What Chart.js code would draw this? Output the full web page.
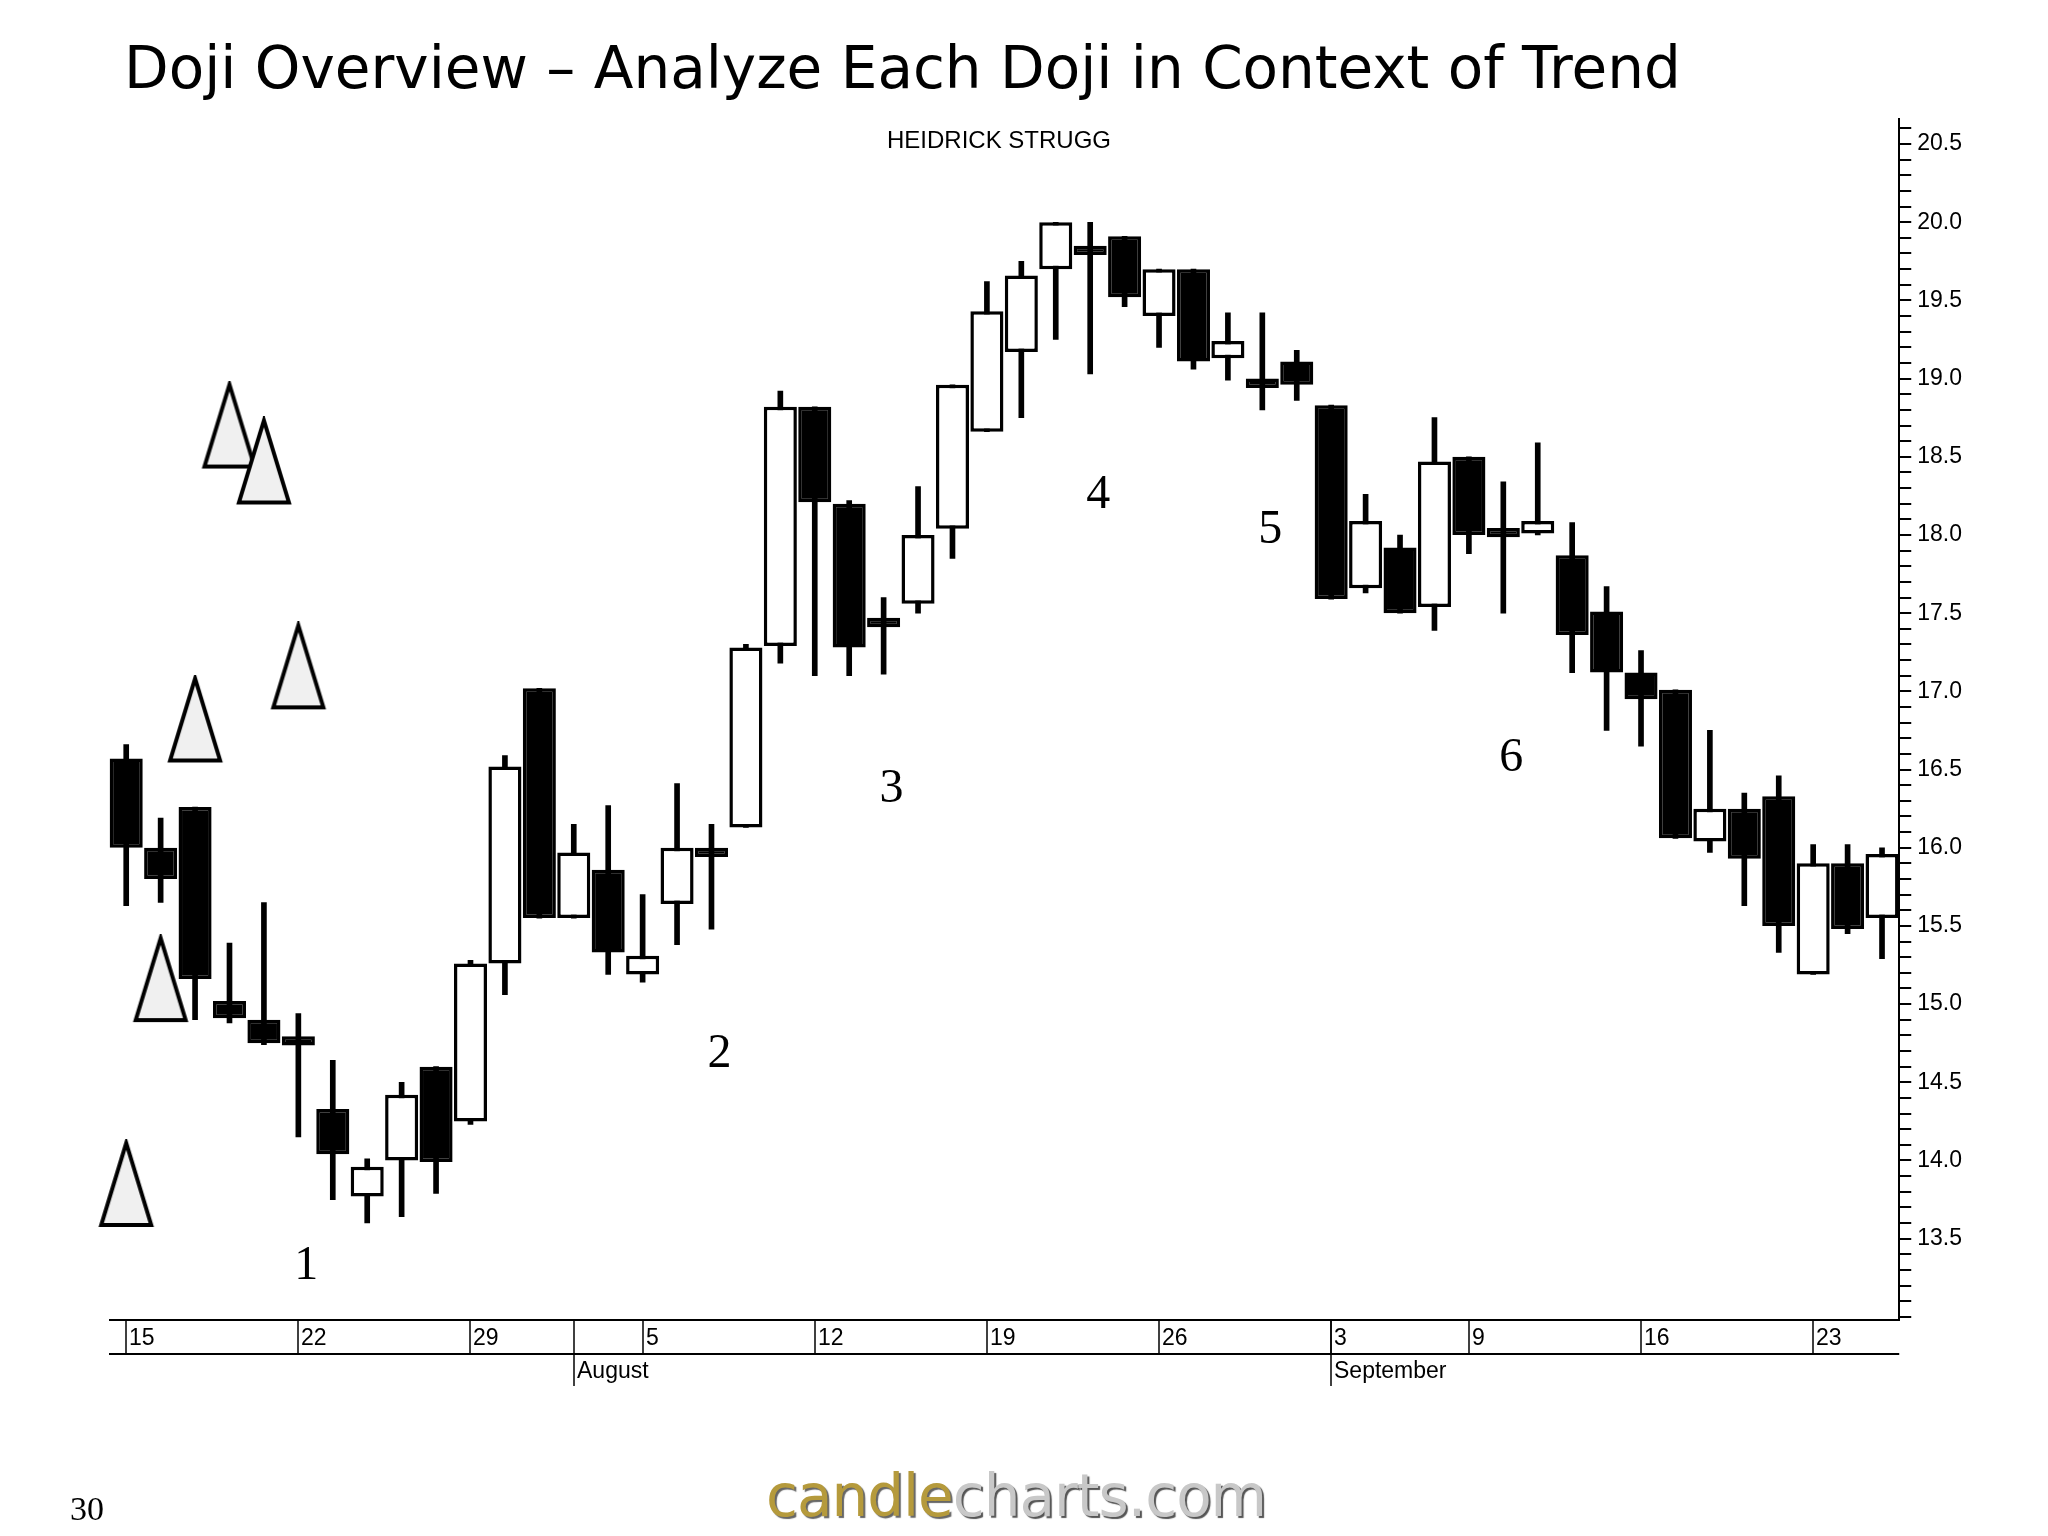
<!DOCTYPE html>
<html>
<head>
<meta charset="utf-8">
<script src="https://cdn.jsdelivr.net/npm/chart.js@4/dist/chart.umd.min.js"></script>
<style>
  body { margin: 0; background: #fff; width: 2048px; height: 1536px; position: relative; overflow: hidden; }
  #title { position: absolute; left: 124px; top: 34px; font-family: "DejaVu Sans", Verdana, sans-serif; font-size: 58px; color: #000; white-space: nowrap; z-index: 2; }
  #wrap { position: absolute; left: 0; top: 0; width: 2048px; height: 1536px; }
  #page { position: absolute; left: 70px; top: 1490px; font-family: "Liberation Serif", serif; font-size: 34px; }
  #logo { position: absolute; left: 766px; top: 1462px; font-family: "DejaVu Sans", sans-serif; font-size: 58px; letter-spacing: -1px; }
  #logo .a { color: #b59a3c; text-shadow: 2px 2px 1px #666; }
  #logo .b { color: #c8c8c8; text-shadow: 2px 2px 1px #555; }
</style>
</head>
<body>
<div id="wrap"><canvas id="c" width="2048" height="1536"></canvas></div>
<div id="title">Doji Overview – Analyze Each Doji in Context of Trend</div>
<div id="page">30</div>
<div id="logo"><span class="a">candle</span><span class="b">charts.com</span></div>
<script>
// trading days, Jul 15 - Sep 25
const days = ['15','16','17','18','19','22','23','24','25','26','29','30','31','1','2','5','6','7','8','9',
  '12','13','14','15','16','19','20','21','22','23','26','27','28','29','30','3','4','5','6','9',
  '10','11','12','13','16','17','18','19','20','23','24','25'];
const opens  = [16.57,16.0,16.26,15.02,14.9,14.77,14.33,13.77,14.0,14.6,14.25,15.26,17.02,15.55,15.86,15.19,15.64,16.0,16.13,17.29,
  18.82,18.2,17.47,17.56,18.04,18.66,19.17,19.7,19.82,19.91,19.4,19.7,19.13,18.98,19.11,18.83,17.66,17.92,17.54,18.5,
  18.02,18.01,17.87,17.51,17.12,17.01,16.04,16.25,16.33,15.19,15.9,15.55];
const highs  = [16.66,16.19,16.26,15.39,15.65,14.94,14.64,14.01,14.5,14.6,15.28,16.59,17.02,16.15,16.27,15.7,16.41,16.15,17.3,18.92,
  18.82,18.22,17.6,18.31,18.96,19.62,19.75,20.0,20.0,19.91,19.7,19.7,19.42,19.42,19.18,18.83,18.26,18.0,18.75,18.5,
  18.34,18.59,18.08,17.67,17.26,17.01,16.75,16.35,16.46,16.02,16.02,16.0];
const lows   = [15.63,15.65,14.9,14.88,14.74,14.15,13.75,13.6,13.64,13.79,14.23,15.06,15.55,15.55,15.19,15.14,15.38,15.48,16.13,17.18,
  17.1,17.1,17.11,17.5,17.85,18.66,18.75,19.25,19.03,19.46,19.2,19.06,18.99,18.8,18.86,17.59,17.63,17.5,17.39,17.88,
  17.5,18.0,17.12,16.75,16.65,16.06,15.97,15.63,15.33,15.19,15.45,15.29];
const closes = [16.0,15.8,15.16,14.91,14.75,14.76,14.04,13.96,14.42,13.99,15.26,16.52,15.55,15.97,15.33,15.31,16.0,15.94,17.28,18.82,
  18.21,17.28,17.41,18.0,18.96,19.43,19.66,20.0,19.82,19.52,19.7,19.11,19.24,18.96,18.96,17.59,18.09,17.5,18.47,18.0,
  18.01,18.09,17.36,17.12,16.95,16.06,16.25,15.93,15.5,15.9,15.48,15.96];
// doji markers
const dojiIndex  = [5, 17, 22, 28, 33, 40];
const dojiMarkY  = [13.85, 15.16, 16.82, 18.70, 18.47, 17.16];
const dojiLabelY = [13.32, 14.68, 16.37, 18.25, 18.03, 16.57];
const dojiLabels = ['1', '2', '3', '4', '5', '6'];
// x-axis labels
const weekIndex = [0, 5, 10, 15, 20, 25, 30, 35, 39, 44, 49];
const monthIndex = [13, 35];
const monthNames = ['August', 'September'];

const isDoji = opens.map((o, i) => Math.abs(o - closes[i]) < 0.06);
const bodies = opens.map((o, i) => {
  const c = closes[i];
  if (isDoji[i]) { const m = (o + c) / 2; return [m - 0.03, m + 0.03]; }
  return [Math.min(o, c), Math.max(o, c)];
});
const bodyFill = opens.map((o, i) => (closes[i] < o || isDoji[i]) ? '#000' : '#fff');
const wicks = lows.map((l, i) => [l, highs[i]]);

// tall narrow triangle marker
const tri = document.createElement('canvas');
tri.width = 58; tri.height = 90;
const tc = tri.getContext('2d');
tc.beginPath(); tc.moveTo(29, 4); tc.lineTo(54, 86); tc.lineTo(4, 86); tc.closePath();
tc.fillStyle = '#f0f0f0'; tc.fill(); tc.lineWidth = 4; tc.strokeStyle = '#000'; tc.stroke();

const decor = {
  id: 'decor',
  afterDraw(chart) {
    const ctx = chart.ctx, x = chart.scales.x, y = chart.scales.y, a = chart.chartArea;
    ctx.save();
    // doji numbers
    ctx.fillStyle = '#000'; ctx.font = '48px "Liberation Serif", serif'; ctx.textAlign = 'center'; ctx.textBaseline = 'middle';
    dojiIndex.forEach((d, k) => ctx.fillText(dojiLabels[k], x.getPixelForValue(d) + 8, y.getPixelForValue(dojiLabelY[k])));
    // subtitle
    ctx.font = '24px "Liberation Sans", Arial, sans-serif';
    ctx.fillText('HEIDRICK STRUGG', 999, 141);
    // x-axis bands
    const y0 = a.bottom, y1 = a.bottom + 34, y2 = y1 + 32;
    ctx.strokeStyle = '#000'; ctx.lineWidth = 2;
    ctx.beginPath(); ctx.moveTo(a.left, y0); ctx.lineTo(a.right, y0); ctx.moveTo(a.left, y1); ctx.lineTo(a.right, y1); ctx.stroke();
    ctx.lineWidth = 1.5; ctx.textAlign = 'left'; ctx.textBaseline = 'middle';
    ctx.font = '23px "Liberation Sans", Arial, sans-serif';
    weekIndex.forEach(w => {
      const px = Math.round(x.getPixelForValue(w));
      ctx.beginPath(); ctx.moveTo(px, y0); ctx.lineTo(px, y1); ctx.stroke();
      ctx.fillText(days[w], px + 3, (y0 + y1) / 2 + 2);
    });
    monthIndex.forEach((m, k) => {
      const px = Math.round(x.getPixelForValue(m));
      ctx.beginPath(); ctx.moveTo(px, y0); ctx.lineTo(px, y2); ctx.stroke();
      ctx.fillText(monthNames[k], px + 3, (y1 + y2) / 2 + 2);
    });
    ctx.restore();
  }
};

new Chart(document.getElementById('c'), {
  type: 'bar',
  data: {
    labels: days.map((d, i) => i),
    datasets: [
      { data: bodies, backgroundColor: bodyFill, borderColor: '#000', borderWidth: 3.5, borderSkipped: false,
        grouped: false, barPercentage: 0.96, categoryPercentage: 1, order: 1 },
      { data: wicks, backgroundColor: '#000', borderWidth: 0, grouped: false, barThickness: 5, order: 2 },
      { type: 'scatter', data: dojiIndex.map((d, k) => ({ x: d + 0.25, y: dojiMarkY[k] })),
        pointStyle: tri, pointRadius: 30, order: 0 }
    ]
  },
  options: {
    responsive: false, animation: false,
    devicePixelRatio: 1,
    layout: { padding: { left: 109, top: 119, right: 80, bottom: 216 } },
    plugins: { legend: { display: false }, tooltip: { enabled: false } },
    scales: {
      x: { type: 'category', display: false, offset: true },
      y: {
        position: 'right', min: 12.98, max: 20.66,
        border: { color: '#000', width: 2 },
        grid: { drawOnChartArea: false, color: '#000', lineWidth: 2, tickLength: 12 },
        afterBuildTicks(s) { const t = []; for (let v = 130; v <= 206; v++) t.push({ value: v / 10 }); s.ticks = t; },
        ticks: {
          autoSkip: false, color: '#000', padding: 6,
          font: { family: '"Liberation Sans", Arial, sans-serif', size: 23 },
          callback: v => (Math.round(v * 10) % 5 === 0 && v >= 13.45) ? v.toFixed(1) : ''
        }
      }
    }
  },
  plugins: [decor]
});
</script>
</body>
</html>
